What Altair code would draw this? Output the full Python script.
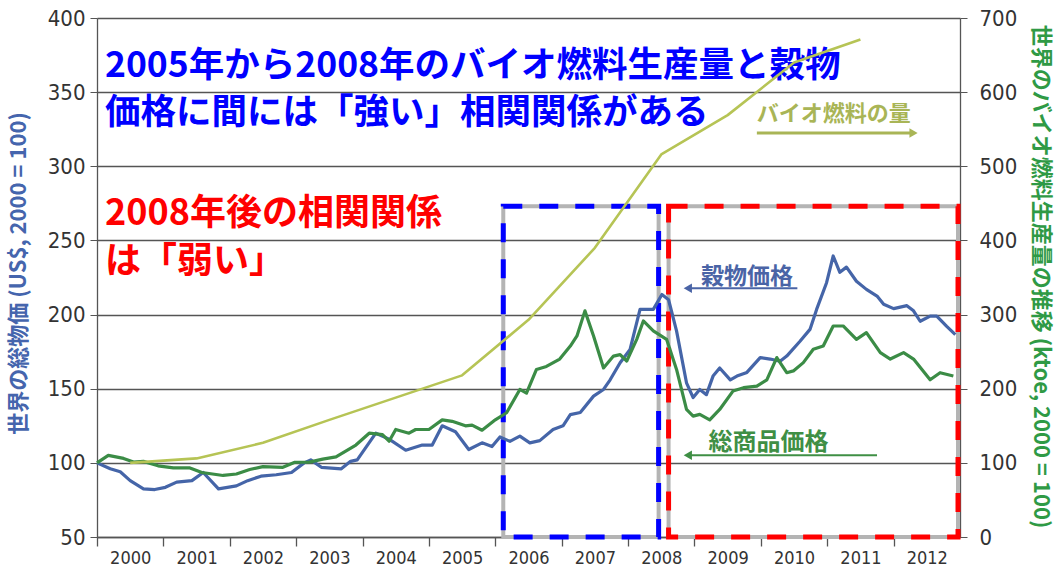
import altair as alt
import pandas as pd

# ---------------- data ----------------
grain_year = [2000.0, 2000.2, 2000.35, 2000.5, 2000.7, 2000.87, 2001.03, 2001.2, 2001.43, 2001.6,
              2001.83, 2002.1, 2002.27, 2002.47, 2002.7, 2002.93, 2003.12, 2003.22, 2003.38, 2003.68,
              2003.82, 2003.92, 2004.2, 2004.4, 2004.65, 2004.9, 2005.05, 2005.2, 2005.4, 2005.6,
              2005.8, 2005.95, 2006.07, 2006.22, 2006.37, 2006.52, 2006.67, 2006.87, 2007.02, 2007.13,
              2007.28, 2007.48, 2007.63, 2007.73, 2007.88, 2008.03, 2008.18, 2008.38, 2008.51, 2008.61,
              2008.73, 2008.88, 2008.98, 2009.08, 2009.18, 2009.28, 2009.38, 2009.54, 2009.64, 2009.79,
              2009.99, 2010.14, 2010.29, 2010.39, 2010.59, 2010.74, 2010.84, 2010.99, 2011.09, 2011.19,
              2011.29, 2011.44, 2011.59, 2011.75, 2011.85, 2012.0, 2012.2, 2012.3, 2012.4, 2012.55,
              2012.65, 2012.8, 2012.93]
grain_val = [100, 96, 94, 88, 82.5, 82, 83.5, 87, 88, 93.5,
             82.5, 84.5, 88, 91, 92, 93.5, 100, 102, 97, 96,
             101, 102, 120, 116, 108.5, 112, 112, 125, 121, 109,
             113.5, 111, 117.5, 114.5, 118, 113.5, 115, 122.5, 125, 132.5,
             134, 145, 149.5, 156, 167.5, 176.5, 203.5, 203.5, 213.5, 210,
             189, 154, 144, 149.5, 146, 158.5, 164, 156, 158.5, 161,
             171, 170, 168.5, 172, 182, 190, 203.5, 221.5, 239.5, 228.5,
             232, 222.5, 217, 212.5, 207, 204, 206, 202.5, 195.5, 199,
             199, 192, 186.5]

comm_year = [2000.0, 2000.17, 2000.4, 2000.55, 2000.7, 2000.92, 2001.15, 2001.4, 2001.58, 2001.9,
             2002.1, 2002.3, 2002.5, 2002.8, 2002.98, 2003.2, 2003.4, 2003.6, 2003.9, 2004.1,
             2004.3, 2004.4, 2004.5, 2004.7, 2004.8, 2005.0, 2005.2, 2005.35, 2005.55, 2005.65,
             2005.8, 2006.0, 2006.17, 2006.37, 2006.47, 2006.62, 2006.77, 2006.97, 2007.13, 2007.23,
             2007.35, 2007.48, 2007.63, 2007.78, 2007.88, 2007.98, 2008.13, 2008.23, 2008.38, 2008.58,
             2008.73, 2008.88, 2008.98, 2009.08, 2009.23, 2009.38, 2009.58, 2009.74, 2009.94, 2010.09,
             2010.24, 2010.39, 2010.49, 2010.64, 2010.79, 2010.94, 2011.09, 2011.24, 2011.44, 2011.59,
             2011.8, 2011.95, 2012.15, 2012.3, 2012.55, 2012.7, 2012.9]
comm_val = [100, 105, 103, 100.5, 101, 98, 96.6, 96.6, 93.5, 91.5,
            92.5, 95.5, 97.5, 97, 100.4, 100.5, 102.5, 104, 112, 120,
            119, 114.6, 122.5, 120, 122.5, 122.5, 129, 128, 125, 125.5,
            122, 129, 133.8, 149.5, 147, 163, 165, 170, 178.8, 185.6,
            202.5, 185.6, 164, 172, 173, 168.7, 183.3, 195.7, 189, 183.3,
            163, 136, 131.5, 132.7, 129, 136, 148.4, 150.7, 151.8, 156,
            171, 160.8, 162, 167.6, 176.6, 178.8, 192.3, 192.3, 183.3, 187.8,
            174.3, 170, 174.3, 170, 156, 160.8, 158.6]

bio_year = [2000.5, 2001.5, 2002.5, 2003.5, 2004.5, 2005.5, 2006.5, 2007.5, 2008.5, 2009.5, 2010.5, 2011.5]
bio_val = [100, 106, 127, 158, 188, 218, 293, 390, 516, 569, 640, 671]

year_ticks = list(range(2000, 2013))
left_ticks = [50, 100, 150, 200, 250, 300, 350, 400]
right_ticks = [0, 100, 200, 300, 400, 500, 600, 700]

# highlighted periods (dashed boxes)
box_x1 = [2006.12, 2008.61]
box_x2 = [2008.46, 2012.97]
box_y1 = [50, 50]
box_y2 = [273, 273]
box_color = ["#0000ff", "#ff0000"]

# annotation texts and their anchor points (in data units)
blue_lines = ["2005年から2008年のバイオ燃料生産量と穀物", "価格に間には「強い」相関関係がある"]
blue_x = [2000.12]
blue_y = [367.5]
red_text = ["2008年後の相関関係", "は「弱い」"]
red_x = [2000.12, 2000.12]
red_y = [267.7, 235.4]

label_text = ["バイオ燃料の量", "穀物価格", "総商品価格"]
label_x = [2009.94, 2009.1, 2009.21]
label_y = [335.5, 225.5, 113.5]
label_color = ["#a9b556", "#4a64a6", "#3f8f45"]
label_size = [22, 23, 24]

arrow_x1 = [2009.94, 2008.95, 2008.95]
arrow_x2 = [2012.28, 2010.55, 2011.75]
arrow_y = [322.4, 217.8, 105.1]
arrow_head_x = [2012.3, 2008.9, 2008.9]
arrow_shape = ["triangle-right", "triangle-left", "triangle-left"]
arrow_width = [3, 2, 2]

# ---------------- chart ----------------
W, H = 863, 519
JP = "Noto Sans CJK JP"
NUM = "Liberation Sans Narrow, DejaVu Sans Condensed, sans-serif"

xs = alt.Scale(domain=[2000, 2013], nice=False, zero=False)
yls = alt.Scale(domain=[50, 400], nice=False, zero=False)
yrs = alt.Scale(domain=[0, 700], nice=False, zero=False)

x_axis = alt.Axis(values=year_ticks, format="d", labelOffset=W / 13 / 2, labelFlush=False,
                  labelOverlap=False, grid=False, domainColor="#555555", domainWidth=1.3,
                  tickColor="#555555", tickSize=9, tickWidth=1.3, labelFont=NUM, labelFontSize=18,
                  labelColor="#333333", labelPadding=3, title=None)

yl_axis = alt.Axis(values=left_ticks, grid=True, gridColor="#555555", gridWidth=1.4, gridOpacity=1,
                   domainColor="#555555", domainWidth=1.3, tickColor="#555555", tickSize=7,
                   labelFont=NUM, labelFontSize=22, labelColor="#333333", labelPadding=5,
                   title="世界の総物価 (US$, 2000 = 100)", titleFont=JP, titleFontSize=22,
                   titleFontWeight="bold", titleColor="#4565ad", titleX=-79, titleY=255,
                   titleAngle=-90, titleAlign="center", titleBaseline="middle")

yr_axis = alt.Axis(values=right_ticks, orient="right", grid=False, domainColor="#555555",
                   domainWidth=1.3, tickColor="#555555", tickSize=7, labelFont=NUM,
                   labelFontSize=22, labelColor="#333333", labelPadding=12,
                   title="世界のバイオ燃料生産量の推移 (ktoe, 2000 = 100)", titleFont=JP,
                   titleFontSize=22, titleFontWeight="bold", titleColor="#2f9a45",
                   titleX=80, titleY=258, titleAngle=90, titleAlign="center", titleBaseline="middle")

grain_df = pd.DataFrame({"year": grain_year, "value": grain_val})
comm_df = pd.DataFrame({"year": comm_year, "value": comm_val})
bio_df = pd.DataFrame({"year": bio_year, "value": bio_val})
box_df = pd.DataFrame({"x1": box_x1, "x2": box_x2, "y1": box_y1, "y2": box_y2, "c": box_color})
blue_df = pd.DataFrame({"x": blue_x, "y": blue_y, "t": ["\n".join(blue_lines)]})
red_df = pd.DataFrame({"x": red_x, "y": red_y, "t": red_text})
lab_df = pd.DataFrame({"x": label_x, "y": label_y, "t": label_text, "c": label_color, "s": label_size})
arr_df = pd.DataFrame({"x1": arrow_x1, "x2": arrow_x2, "y": arrow_y, "hx": arrow_head_x,
                       "shape": arrow_shape, "c": label_color, "w": arrow_width})


def X(field):
    return alt.X(f"{field}:Q", scale=xs, axis=x_axis)


def YL(field):
    return alt.Y(f"{field}:Q", scale=yls, axis=yl_axis)


grain_line = alt.Chart(grain_df).mark_line(color="#4565a8", strokeWidth=3.2, strokeJoin="round").encode(
    x=X("year"), y=YL("value"))
comm_line = alt.Chart(comm_df).mark_line(color="#3b8c46", strokeWidth=3.2, strokeJoin="round").encode(
    x=X("year"), y=YL("value"))

box_shadow = alt.Chart(box_df).mark_rect(filled=False, stroke="#b4b4b4", strokeWidth=4).encode(
    x=X("x1"), x2="x2", y=YL("y1"), y2="y2")
box_rect = alt.Chart(box_df).mark_rect(filled=False, strokeWidth=5, strokeDash=[19, 17]).encode(
    x=X("x1"), x2="x2", y=YL("y1"), y2="y2", stroke=alt.Stroke("c:N", scale=None))

blue_txt = alt.Chart(blue_df).mark_text(align="left", baseline="middle", font=JP, fontSize=35.5,
                                        lineBreak="\n", lineHeight=46.5,
                                        fontWeight="bold", color="#0000ff").encode(
    x=X("x"), y=YL("y"), text="t:N")
red_txt = alt.Chart(red_df).mark_text(align="left", baseline="middle", font=JP, fontSize=36,
                                      fontWeight="bold", color="#ff0000").encode(
    x=X("x"), y=YL("y"), text="t:N")

lab_txt = alt.Chart(lab_df).mark_text(align="left", baseline="middle", font=JP,
                                      fontWeight="bold").encode(
    x=X("x"), y=YL("y"), text="t:N", color=alt.Color("c:N", scale=None),
    size=alt.Size("s:Q", scale=None))

arr_rule = alt.Chart(arr_df).mark_rule().encode(
    x=X("x1"), x2="x2", y=YL("y"), color=alt.Color("c:N", scale=None),
    strokeWidth=alt.StrokeWidth("w:Q", scale=None))
arr_head = alt.Chart(arr_df).mark_point(filled=True, size=90, opacity=1).encode(
    x=X("hx"), y=YL("y"), color=alt.Color("c:N", scale=None),
    shape=alt.Shape("shape:N", scale=None))

left = alt.layer(box_shadow, box_rect, grain_line, comm_line, blue_txt, red_txt,
                 lab_txt, arr_rule, arr_head)

right = alt.Chart(bio_df).mark_line(color="#b6c455", strokeWidth=2.6, strokeJoin="round").encode(
    x=X("year"), y=alt.Y("value:Q", scale=yrs, axis=yr_axis))

chart = alt.layer(left, right).resolve_scale(y="independent").properties(
    width=W, height=H,
    autosize=alt.AutoSizeParams(type="none"),
    padding={"left": 97, "top": 18, "right": 100, "bottom": 41},
    background="white",
).configure_view(stroke=None)

chart.save("out.html", embed_options={"renderer": "svg", "actions": False})
